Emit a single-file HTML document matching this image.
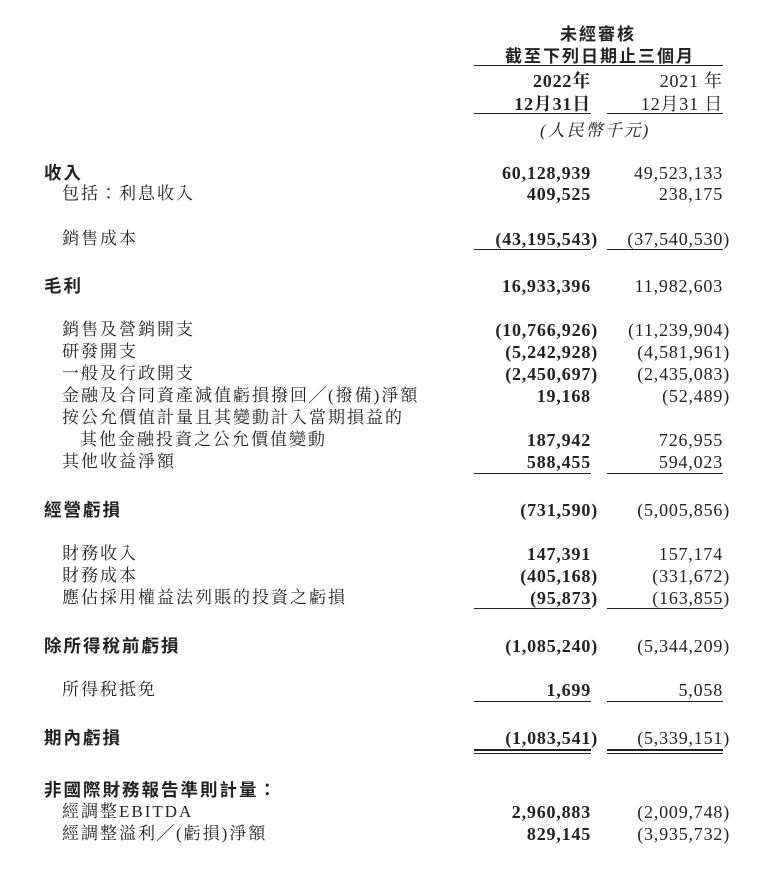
<!DOCTYPE html>
<html><head><meta charset="utf-8">
<style>
body{margin:0;width:776px;height:869px;background:#fff;position:relative;overflow:hidden;color:#222}
.r{position:absolute;left:0;width:776px;height:22px;line-height:22px}
.lab{position:absolute;font-family:"Liberation Serif","Noto Serif CJK TC","Noto Serif CJK SC",serif;font-size:17px;letter-spacing:2px;white-space:nowrap}
.h{font-family:"Liberation Sans","Noto Sans CJK TC",sans-serif;font-weight:bold;font-size:17.5px}
.n{position:absolute;font-family:"Liberation Serif",serif;font-size:18px;letter-spacing:0.8px;white-space:nowrap;text-align:right}
.a{right:185px;font-weight:bold}
.b{right:53px}
.p{margin-right:-7px}
.ln{position:absolute;height:1px;background:#222}
.c1{left:474px;width:117px}.c2{left:607px;width:116px}
.hd{position:absolute;font-family:"Liberation Serif","Noto Sans CJK TC",sans-serif;font-size:17px;letter-spacing:2px;white-space:nowrap}
</style></head><body>
<div class="hd h" style="left:560px;top:20px">未經審核</div>
<div class="hd h" style="left:505px;top:42px">截至下列日期止三個月</div>
<div class="ln" style="left:474px;width:249px;top:65px"></div>
<div class="n a" style="top:67px;font-family:'Liberation Serif','Noto Serif CJK TC',serif">2022年</div>
<div class="n a" style="top:90px;font-family:'Liberation Serif','Noto Serif CJK TC',serif">12月31日</div>
<div class="n b" style="top:67px;font-family:'Liberation Serif','Noto Serif CJK TC',serif">2021 年</div>
<div class="n b" style="top:90px;font-family:'Liberation Serif','Noto Serif CJK TC',serif">12月31 日</div>
<div class="ln c1" style="top:113px"></div>
<div class="ln c2" style="top:113px"></div>
<div class="hd" style="left:540px;top:116px;font-style:italic;font-family:'Liberation Serif','Noto Serif CJK TC',serif">(人民幣千元)</div>

<div id="rows"></div>
<script>
const rows=[
[171,44,1,"收入","60,128,939","49,523,133"],
[192,62,0,"包括：利息收入","409,525","238,175"],
[237,62,0,"銷售成本","(43,195,543)","(37,540,530)"],
[284,44,1,"毛利","16,933,396","11,982,603"],
[328,62,0,"銷售及營銷開支","(10,766,926)","(11,239,904)"],
[350,62,0,"研發開支","(5,242,928)","(4,581,961)"],
[372,62,0,"一般及行政開支","(2,450,697)","(2,435,083)"],
[394,62,0,"金融及合同資產減值虧損撥回╱(撥備)淨額","19,168","(52,489)"],
[416,62,0,"按公允價值計量且其變動計入當期損益的","",""],
[438,80,0,"其他金融投資之公允價值變動","187,942","726,955"],
[460,62,0,"其他收益淨額","588,455","594,023"],
[508,44,1,"經營虧損","(731,590)","(5,005,856)"],
[552,62,0,"財務收入","147,391","157,174"],
[574,62,0,"財務成本","(405,168)","(331,672)"],
[596,62,0,"應佔採用權益法列賬的投資之虧損","(95,873)","(163,855)"],
[644,44,1,"除所得稅前虧損","(1,085,240)","(5,344,209)"],
[688,62,0,"所得稅抵免","1,699","5,058"],
[736,44,1,"期內虧損","(1,083,541)","(5,339,151)"],
[788,44,1,"非國際財務報告準則計量：","",""],
[810,62,0,"經調整EBITDA","2,960,883","(2,009,748)"],
[832,62,0,"經調整溢利╱(虧損)淨額","829,145","(3,935,732)"]
];
const rules=[249,473,608,701];
const host=document.getElementById('rows');
function fmt(v){return v.endsWith(')')?v.slice(0,-1)+'<span class="p">)</span>':v;}
rows.forEach((r,i)=>{
 const d=document.createElement('div');d.className='r';d.style.top=(r[0]-9)+'px';
 
 
 const l=document.createElement('div');l.className='lab'+(r[2]?' h':'');l.style.left=r[1]+'px';l.textContent=r[3];
 
 
 d.appendChild(l);
 if(r[4]){const a=document.createElement('div');a.className='n a';a.innerHTML=fmt(r[4]);
  
  
  d.appendChild(a);}
 if(r[5]){const b=document.createElement('div');b.className='n b';b.innerHTML=fmt(r[5]);
  
  
  d.appendChild(b);}
 host.appendChild(d);
});
rules.forEach(y=>{['c1','c2'].forEach(c=>{const e=document.createElement('div');e.className='ln '+c;e.style.top=y+'px';
 
 
 host.appendChild(e);});});
[749,753].forEach((y,k)=>{['c1','c2'].forEach(c=>{const e=document.createElement('div');e.className='ln '+c;e.style.top=y+'px';e.style.height=(k?1:2)+'px';
 
 
 host.appendChild(e);});});
</script>
</body></html>
